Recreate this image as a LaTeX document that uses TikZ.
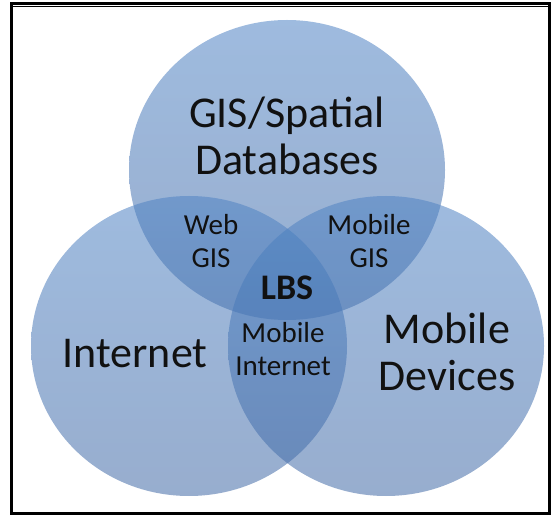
\documentclass[tikz,border=0pt]{standalone}
\usepackage{fontspec}
\setmainfont{Carlito}
\usetikzlibrary{shapes.geometric}

\definecolor{circtop}{RGB}{79,131,196}
\definecolor{circbot}{RGB}{66,106,166}
\definecolor{ink}{RGB}{17,17,17}

\tikzset{
  setcircle/.style={ellipse, inner sep=0pt, minimum width=316pt, minimum height=300pt,
    top color=circtop, bottom color=circbot, fill opacity=0.55, draw=none},
  bigtext/.style={text=ink, align=center, inner sep=0pt,
    font=\fontsize{44}{47}\selectfont},
  smalltext/.style={text=ink, align=center, inner sep=0pt,
    font=\fontsize{29}{33}\selectfont},
  coretext/.style={text=ink, inner sep=0pt,
    font=\fontsize{36}{40}\selectfont\bfseries},
  frameline/.style={draw=black, line width=3pt}
}

\begin{document}
\begin{tikzpicture}[x=1pt, y=-1pt]
  \useasboundingbox (0,0) rectangle (551,518);

  % outer frame with a fine rule under the top edge
  \draw[frameline] (11.5,4) -- (549.5,4) -- (549.5,513) -- (11.5,513) -- cycle;
  \draw[line width=0.8pt] (13,6.2) -- (548,6.2);

  % the three sets
  \node[setcircle] (gis) at (287,170) {};
  \node[setcircle] (internet) at (189,346) {};
  \node[setcircle] (devices) at (386,346) {};

  % set labels (base anchor sits on the last line)
  \node[bigtext, anchor=base] (lgis) at (287,175) {GIS/Spatial\\Databases};
  \node[bigtext, anchor=base] (linternet) at (135,367) {Internet};
  \node[bigtext, anchor=base] (ldevices) at (447,390) {Mobile\\Devices};

  % pairwise overlaps
  \node[smalltext, anchor=base] (lweb) at (211,268) {Web\\GIS};
  \node[smalltext, anchor=base] (lmgis) at (369,268) {Mobile\\GIS};
  \node[smalltext, anchor=base] (lmint) at (283,375) {Mobile\\Internet};

  % common core
  \node[coretext, anchor=base] (lbs) at (287,300) {LBS};
\end{tikzpicture}
\end{document}
